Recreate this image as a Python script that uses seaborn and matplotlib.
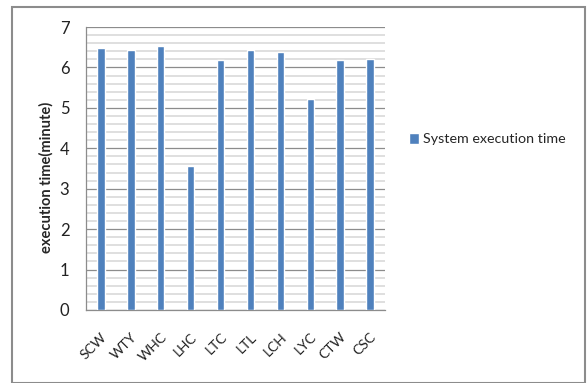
import matplotlib
matplotlib.use("Agg")
import matplotlib.pyplot as plt
from matplotlib.patches import Rectangle
from matplotlib.ticker import MultipleLocator
import seaborn as sns
import pandas as pd

# chart data
categories = ["SCW", "WTY", "WHC", "LHC", "LTC", "LTL", "LCH", "LYC", "CTW", "CSC"]
exec_times = [6.47, 6.43, 6.52, 3.57, 6.18, 6.43, 6.38, 5.22, 6.18, 6.22]
series_name = "System execution time"

df = pd.DataFrame({"task": categories, "time": exec_times})

sns.set_style("white")
plt.rcParams["font.family"] = ["Lato", "DejaVu Sans"]

fig = plt.figure(figsize=(5.87, 3.83), dpi=100)
ax = fig.add_axes([86 / 587, 1 - 310 / 383, (385 - 86) / 587, (310 - 27) / 383])

sns.barplot(data=df, x="task", y="time", color="#4F81BD", width=0.25,
            saturation=1, label=series_name, ax=ax, zorder=3)

ax.set_ylim(0, 7)
ax.set_xlim(-0.5, len(categories) - 0.5)
ax.yaxis.set_major_locator(MultipleLocator(1))
ax.yaxis.set_minor_locator(MultipleLocator(0.2))
ax.grid(which="major", axis="y", color="#8c8c8c", linewidth=0.9, zorder=0)
ax.grid(which="minor", axis="y", color="#d9d9d9", linewidth=1.2, zorder=0)
ax.set_axisbelow(True)

for side in ["top", "right"]:
    ax.spines[side].set_visible(False)
ax.spines["left"].set_color("#8c8c8c")
ax.spines["bottom"].set_color("#8c8c8c")
ax.spines["left"].set_linewidth(0.9)
ax.spines["bottom"].set_linewidth(0.9)

ax.tick_params(axis="y", which="major", length=4, color="#8c8c8c", labelsize=12,
               pad=8, labelcolor="#222222")
ax.tick_params(axis="y", which="minor", length=0)
ax.tick_params(axis="x", length=0, labelsize=10, pad=15, labelcolor="#222222")
plt.setp(ax.get_xticklabels(), rotation=45, ha="right", rotation_mode="anchor")
ax.set_xlabel("")
ax.set_ylabel("execution time(minute)", fontsize=10.5, fontweight="bold")
ax.yaxis.set_label_coords(-0.11, 0.47)

# legend to the right of the plot
ax.legend(loc="center left", bbox_to_anchor=(1 + 24 / 299, 0.605), frameon=False,
          fontsize=10.3, handlelength=0.7, handleheight=0.8, handletextpad=0.3,
          borderaxespad=0, borderpad=0)

# chart frame
fig.patches.append(Rectangle((12 / 587, 0.0), 573 / 587, 1 - 7 / 383,
                             transform=fig.transFigure, fill=False,
                             edgecolor="#8c8c8c", linewidth=1.5))

fig.savefig("out.png", dpi=100)
